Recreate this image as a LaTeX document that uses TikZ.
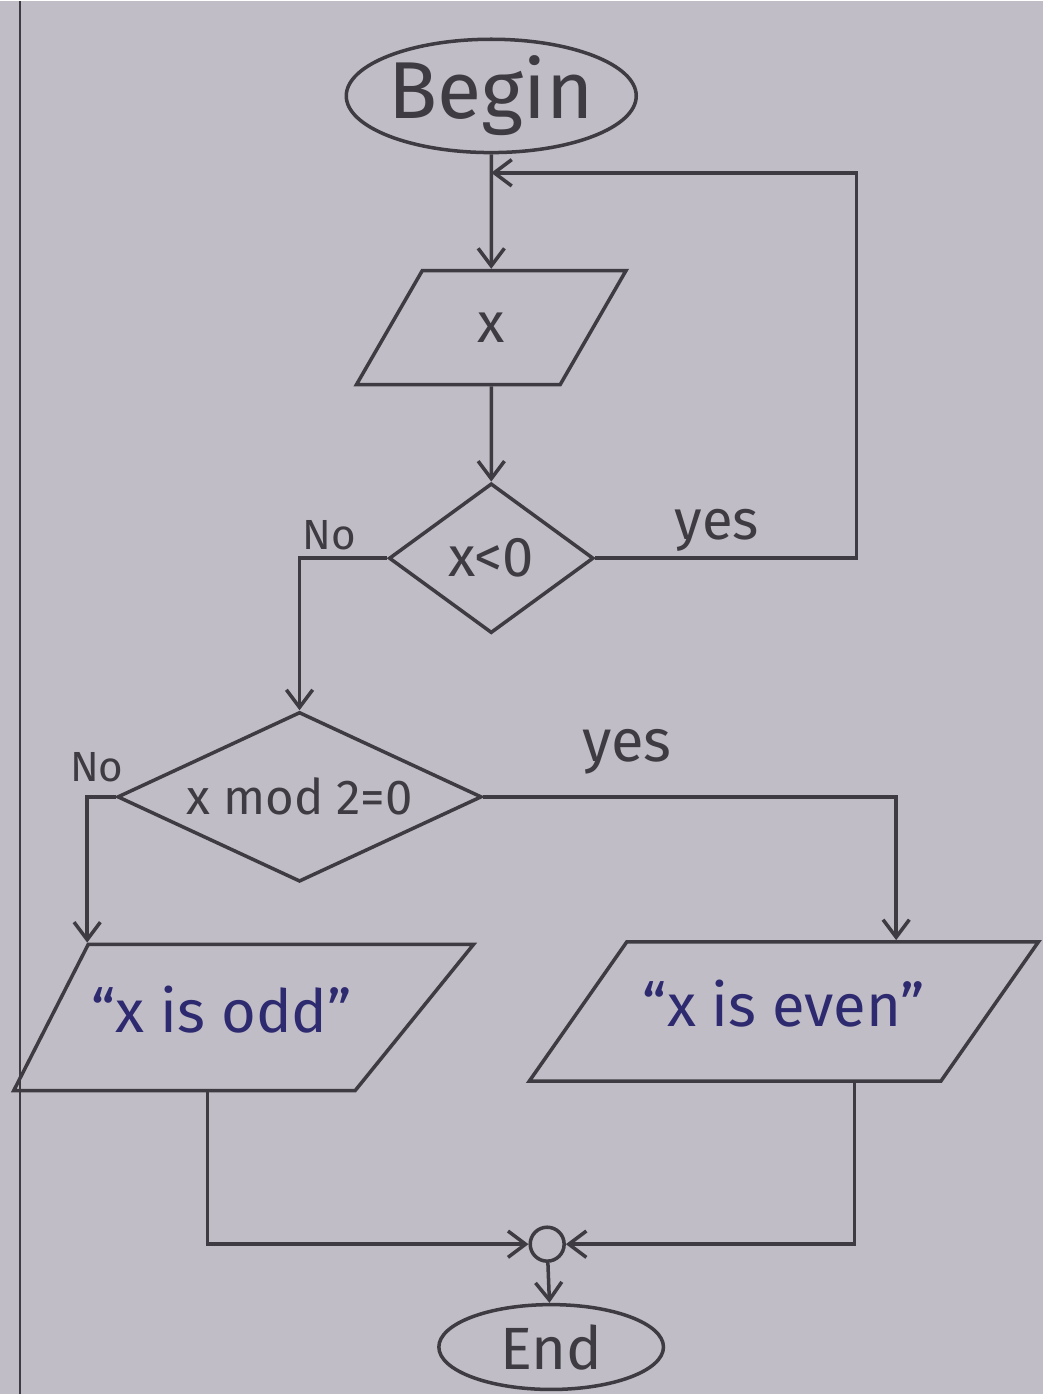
\documentclass[tikz,border=0pt]{standalone}
\usepackage{fontspec}
\setmainfont{Fira Sans}
\usepackage{tikz}
\usetikzlibrary{shapes,arrows.meta,positioning,calc}
\definecolor{paper}{RGB}{193,189,198}
\definecolor{pencil}{RGB}{62,60,66}
\definecolor{ink}{RGB}{46,42,112}
\newcommand\handsize[1]{\fontsize{#1}{#1}\selectfont}

\begin{document}
\begin{tikzpicture}[x=0.02cm,y=-0.02cm,line width=2pt,color=pencil,
  >={Straight Barb[length=10pt,width=15pt]},
  term/.style={draw,ellipse,inner sep=0pt},
  io/.style={draw,trapezium,trapezium stretches body=true,inner xsep=2pt,text height=25pt,text depth=8pt},
  test/.style={draw,diamond,inner sep=0pt},
  lbl/.style={font=\handsize{24}}]
  % paper and margin
  \fill[paper] (0,0) rectangle (1045,1395);
  \draw[line width=1.2pt] (20,0) -- (20,1395);

  \node[term,minimum width=5.7cm,minimum height=2cm,font=\handsize{46}] (begin) at (492,95) {Begin};
  \node[io,trapezium left angle=60,trapezium right angle=120,inner ysep=16pt,minimum width=5.4cm,font=\handsize{32}] (xin) at (492,327) {x};
  \node[test,aspect=1.37,minimum width=4.1cm,minimum height=3cm,font=\handsize{32}] (neg) at (492,558) {x<0};
  \node[test,aspect=2.15,minimum width=7.3cm,minimum height=3.4cm,font=\handsize{28}] (mod) at (300,797) {x mod 2=0};
  \node[io,trapezium left angle=63,trapezium right angle=129,inner ysep=25.2pt,minimum width=9.1cm,text=ink,font=\handsize{34}] (odd) at (222,1018) {“x is odd”};
  \node[io,trapezium left angle=55,trapezium right angle=125,inner ysep=23.2pt,minimum width=10.2cm,text=ink,font=\handsize{34}] (even) at (785,1012) {“x is even”};
  \node[draw,circle,minimum size=0.68cm,inner sep=0pt] (join) at (548,1245) {};
  \node[term,minimum width=4.5cm,minimum height=1.7cm,font=\handsize{34}] (end) at (552,1348) {End};

  % branch labels
  \node[lbl] (nolo) at (330,535) {No};
  \node[lbl,font=\handsize{32}] (yeslo) at (718,530) {yes};
  \node[lbl] (nomod) at (97,767) {No};
  \node[lbl,font=\handsize{34}] (yesmod) at (628,752) {yes};

  \coordinate (merge) at (492,172);
  \coordinate (loop) at (858,300);
  \draw[->] (begin) -- (xin);
  \draw[->] (xin) -- (neg);
  \draw[->] (neg.east) -| (loop) |- (merge);
  \draw[->] (neg.west) -| (mod.north);
  \draw[->] (mod.west) -| (odd.top left corner);
  \draw[->] (mod.east) -| ($(even.top left corner)!0.65!(even.top right corner)$);
  \draw[->] ($(odd.bottom left corner)!0.57!(odd.bottom right corner)$) |- (join.west);
  \draw[->] ($(even.bottom left corner)!0.79!(even.bottom right corner)$) |- (join.east);
  \draw[->] (join) -- (end);
\end{tikzpicture}
\end{document}
